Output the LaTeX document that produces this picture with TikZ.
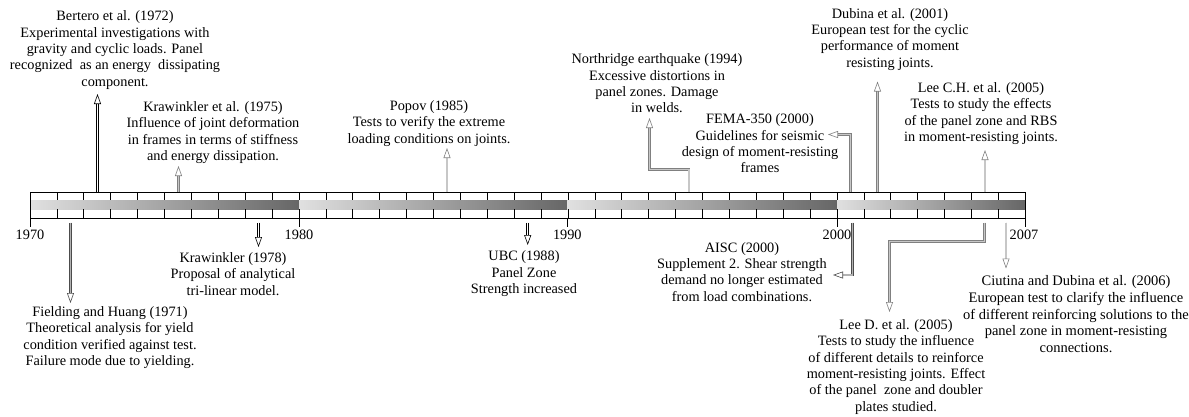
\documentclass[tikz,border=0pt]{standalone}
\usepackage{fontspec}
\setmainfont{Liberation Serif}
\usetikzlibrary{arrows.meta}
\tikzset{
  txt/.style={align=center, inner sep=0pt, font=\fontsize{14.3}{16.3}\selectfont},
  yearlbl/.style={inner sep=0pt, font=\fontsize{14.3}{16.3}\selectfont},
  barline/.style={line width=0.8pt, draw=black},
  arrbase/.style={line width=0.6pt, double distance=1.5pt, line join=miter,
     -{Triangle[open, length=10pt, width=7pt, line width=0.6pt]}},
  blackarr/.style={arrbase, draw=black, double=white},
  darkarr/.style={arrbase, draw=black!70, double=black!30},
  grayarr/.style={arrbase, draw=black!50, double=black!22},
}
\begin{document}
\begin{tikzpicture}[x=1pt, y=-1pt]
\useasboundingbox (0,0) rectangle (1189,416);
\clip (0,0) rectangle (1189,416);
\fill[white] (0,0) rectangle (1189,416);

% ---- timeline bar ----
\shade[left color=black!12, right color=black!60] (30,200) rectangle (299,209);
\shade[left color=black!12, right color=black!60] (299,200) rectangle (567.3,209);
\shade[left color=black!12, right color=black!60] (567.3,200) rectangle (837,209);
\shade[left color=black!12, right color=black!60] (837,200) rectangle (1025,209);
\draw[barline] (30,192) -- (1025,192);
\draw[barline] (30,218) -- (1025,218);
\foreach \i in {1,...,36} {
  \draw[barline] ({30+\i*26.9},192) -- ({30+\i*26.9},200);
  \draw[barline] ({30+\i*26.9},209) -- ({30+\i*26.9},218);
}
\draw[barline] (30,192) -- (30,227);
\draw[barline] (1025,192) -- (1025,227);
\draw[barline] (299,218) -- (299,227);
\draw[barline] (567.3,218) -- (567.3,227);
\draw[barline] (837,218) -- (837,227);

\node[yearlbl] (y1970) at (30,235) {1970};
\node[yearlbl] (y1980) at (299,235) {1980};
\node[yearlbl] (y1990) at (567.3,235) {1990};
\node[yearlbl] (y2000) at (837,235) {2000};
\node[yearlbl] (y2007) at (1024,235) {2007};

% ---- upper texts ----
\node[txt] (bertero) at (115,50) {Bertero et al. (1972)\\Experimental investigations with\\gravity and cyclic loads. Panel\\recognized~ as an energy~ dissipating\\component.};
\node[txt] (kraw75) at (213,132.5) {Krawinkler et al. (1975)\\Influence of joint deformation\\in frames in terms of stiffness\\and energy dissipation.};
\node[txt] (popov) at (429,123.5) {Popov (1985)\\Tests to verify the extreme\\loading conditions on joints.};
\node[txt] (north) at (657,83.5) {Northridge earthquake (1994)\\Excessive distortions in\\panel zones. Damage\\in welds.};
\node[txt] (fema) at (760,143.5) {FEMA-350 (2000)\\Guidelines for seismic\\design of moment-resisting\\frames};
\node[txt] (dubina) at (890,39.3) {Dubina et al. (2001)\\European test for the cyclic\\performance of moment\\resisting joints.};
\node[txt] (leech) at (981,113.5) {Lee C.H. et al. (2005)\\Tests to study the effects\\of the panel zone and RBS\\in moment-resisting joints.};

% ---- lower texts ----
\node[txt] (fielding) at (110,337.7) {Fielding and Huang (1971)\\Theoretical analysis for yield\\condition verified against test.\\Failure mode due to yielding.};
\node[txt] (kraw78) at (233,274) {Krawinkler (1978)\\Proposal of analytical\\tri-linear model.};
\node[txt] (ubc) at (524,273.7) {UBC (1988)\\Panel Zone\\Strength increased};
\node[txt] (aisc) at (742,271.8) {AISC (2000)\\Supplement 2. Shear strength\\demand no longer estimated\\from load combinations.};
\node[txt] (leed) at (896,367) {Lee D. et al. (2005)\\Tests to study the influence\\of different details to reinforce\\moment-resisting joints. Effect\\of the panel~ zone and doubler\\plates studied.};
\node[txt, font=\fontsize{14.5}{16.7}\selectfont] (ciutina) at (1076,314.3) {Ciutina and Dubina et al. (2006)\\European test to clarify the influence\\of different reinforcing solutions to the\\panel zone in moment-resisting\\connections.};

% ---- arrow end points ----
\coordinate (sBer) at (97.5,192);   \coordinate (tBer) at (97.5,94);
\coordinate (sK75) at (178.5,192);  \coordinate (tK75) at (178.5,166);
\coordinate (sPop) at (447,192);    \coordinate (tPop) at (447,148);
\coordinate (sNor) at (689,192);    \coordinate (tNor) at (649.5,118);
\coordinate (sFem) at (850.5,192);  \coordinate (tFem) at (828,134.5);
\coordinate (sDub) at (877.5,192);  \coordinate (tDub) at (877.5,81.5);
\coordinate (sLCH) at (985,192);    \coordinate (tLCH) at (985,150);
\coordinate (sFie) at (70.5,222.5); \coordinate (tFie) at (70.5,303);
\coordinate (sK78) at (258.5,222.5);\coordinate (tK78) at (258.5,247);
\coordinate (sUBC) at (527.7,222.5);\coordinate (tUBC) at (527.7,245);
\coordinate (sAIS) at (852.5,222.5);\coordinate (tAIS) at (833,275);
\coordinate (sLD) at (984.5,222.5); \coordinate (tLD) at (889.5,312);
\coordinate (sCiu) at (1006,222.5); \coordinate (tCiu) at (1006,268.5);

% ---- arrows ----
\draw[blackarr] (sBer) -- (tBer);
\draw[grayarr] (sK75) -- (tK75);
\draw[grayarr] (sPop) -- (tPop);
\draw[grayarr] (sNor) |- (649.5,169.5) -- (tNor);
\draw[grayarr] (sFem) |- (tFem);
\draw[grayarr] (sDub) -- (tDub);
\draw[grayarr] (sLCH) -- (tLCH);
\draw[darkarr] (sFie) -- (tFie);
\draw[blackarr] (sK78) -- (tK78);
\draw[blackarr] (sUBC) -- (tUBC);
\draw[darkarr] (sAIS) |- (tAIS);
\draw[grayarr] (sLD) |- (889.5,241.7) -- (tLD);
\draw[grayarr] (sCiu) -- (tCiu);
\end{tikzpicture}
\end{document}
